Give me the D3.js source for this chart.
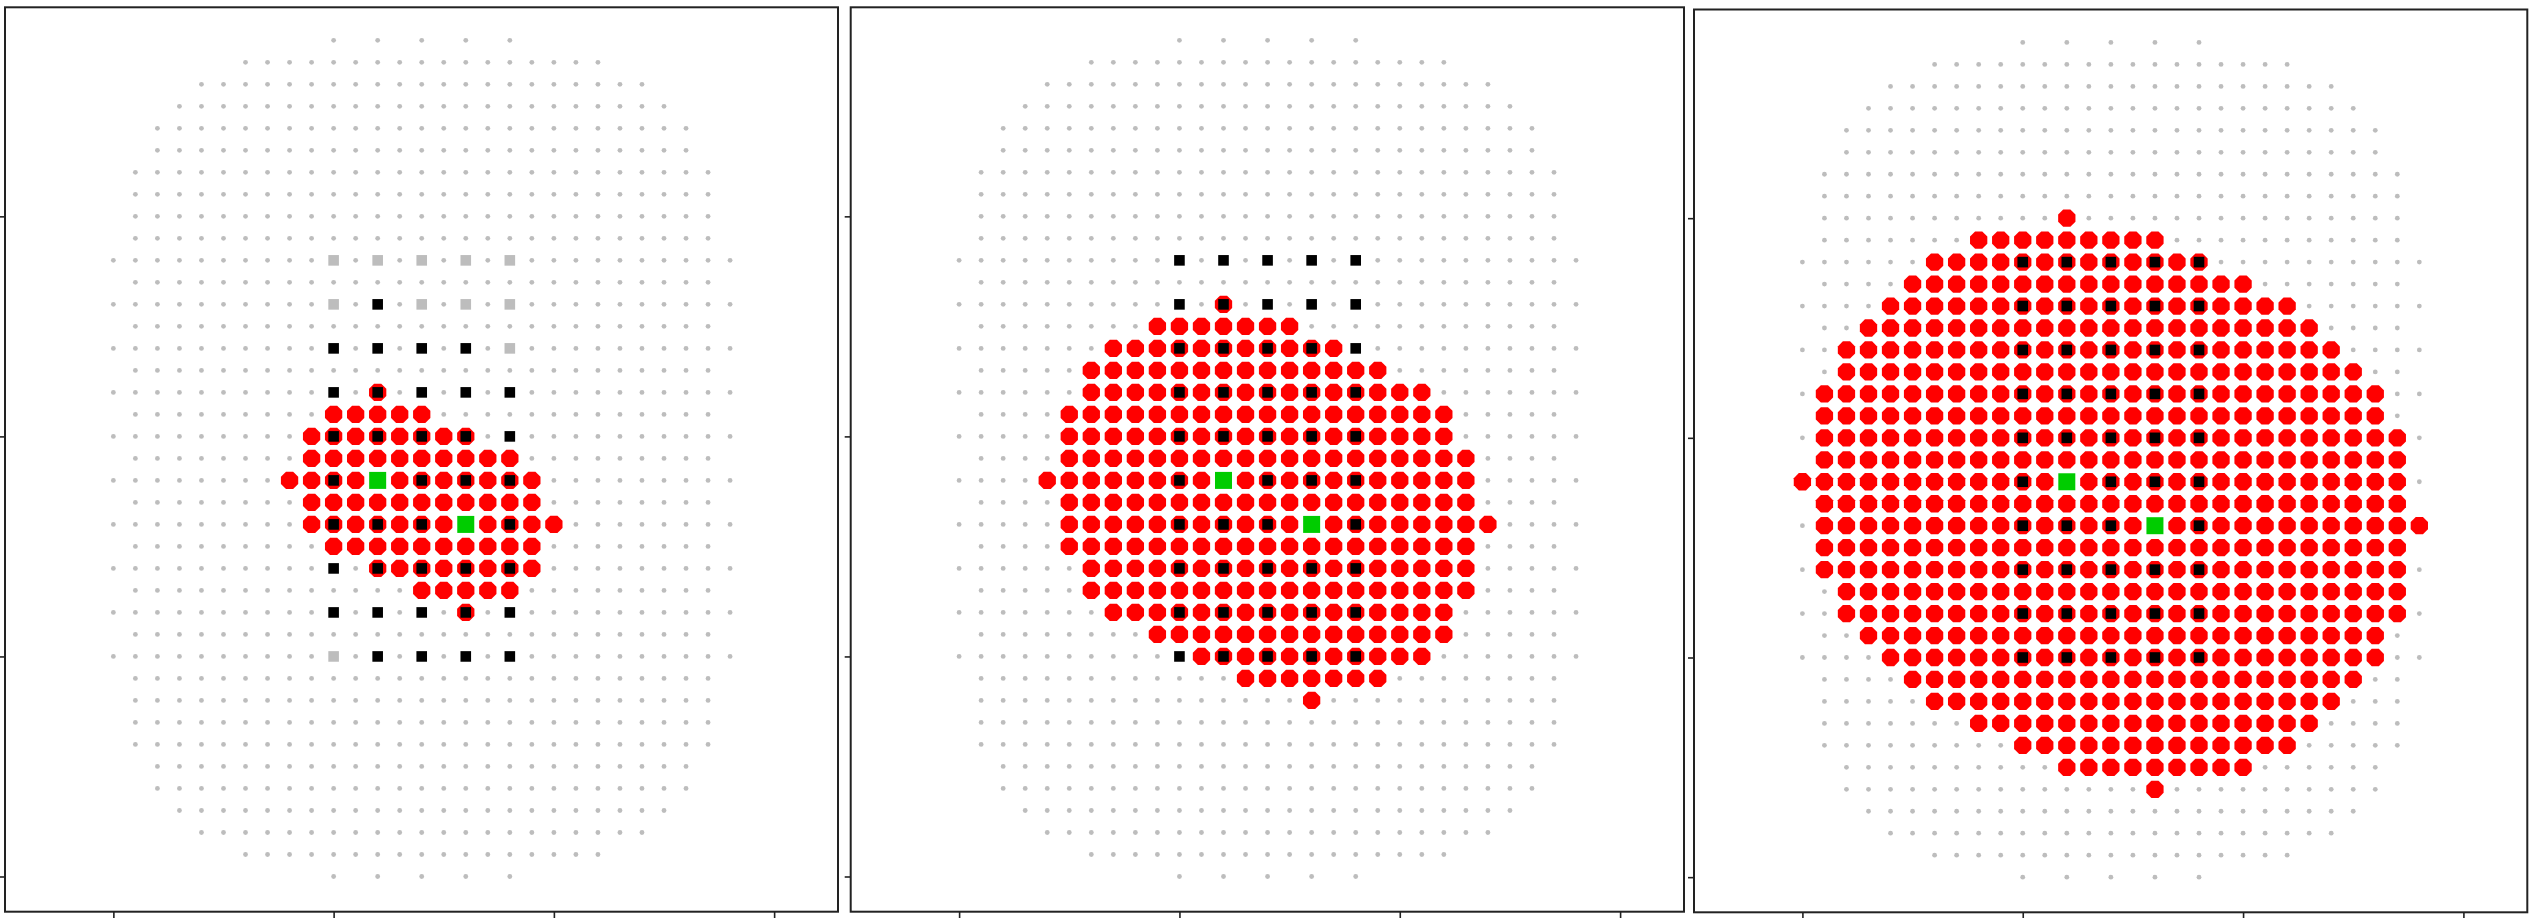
<!DOCTYPE html>
<html><head><meta charset="utf-8">
<script src="https://cdn.jsdelivr.net/npm/d3@7"></script>
<style>html,body{margin:0;padding:0;background:#fff;} svg{display:block;}</style>
</head><body>
<script>
// ---------- DATA (col = x index, row = y index from top) ----------
// gray sample grid, one entry per row: [row, firstCol, lastCol, step]
const gridRows = [
  [0,10,18,2],[1,6,22,1],[2,4,24,1],[3,3,25,1],[4,2,26,1],[5,2,26,1],
  [6,1,27,1],[7,1,27,1],[8,1,27,1],[9,1,27,1],
  [10,0,28,1],[11,1,27,1],[12,0,28,1],[13,1,27,1],[14,0,28,1],[15,1,27,1],
  [16,0,28,1],[17,1,27,1],[18,0,28,1],[19,1,27,1],[20,0,28,1],[21,1,27,1],
  [22,0,28,1],[23,1,27,1],[24,0,28,1],[25,1,27,1],[26,0,28,1],[27,1,27,1],
  [28,0,28,1],[29,1,27,1],[30,1,27,1],[31,1,27,1],[32,1,27,1],
  [33,2,26,1],[34,2,26,1],[35,3,25,1],[36,4,24,1],[37,6,22,1],[38,10,18,2]
];
// coarse (square-marker) lattice
const coarseCols = [10,12,14,16,18];
const coarseRows = [10,12,14,16,18,20,22,24,26,28];
// two green reference points [col,row]
const greenPoints = [[12,20],[16,22]];
// panel 1 coarse points drawn gray instead of black [col,row]
const panel1GraySquares = [[10,10],[12,10],[14,10],[16,10],[18,10],[10,12],[14,12],[16,12],[18,12],[18,14],[10,28]];
// red markers per panel: [row, firstCol, lastCol]
const panel1Red = [
  [16,12,12],[17,10,14],[18,9,16],[19,9,18],[20,8,19],[21,9,19],
  [22,9,20],[23,10,19],[24,12,19],[25,14,18],[26,16,16]
];
const panel2Red = [
  [12,12,12],[13,9,15],[14,7,17],[15,6,19],[16,6,21],[17,5,22],[18,5,22],
  [19,5,23],[20,4,23],[21,5,23],[22,5,24],[23,5,23],[24,6,23],[25,6,23],
  [26,7,22],[27,9,22],[28,11,21],[29,13,19],[30,16,16]
];
const panel3Red = [
  [8,12,12],[9,8,16],[10,6,18],[11,5,20],[12,4,22],[13,3,23],[14,2,24],
  [15,2,25],[16,1,26],[17,1,26],[18,1,27],[19,1,27],[20,0,27],[21,1,27],
  [22,1,28],[23,1,27],[24,1,27],[25,2,27],[26,2,27],[27,3,26],[28,4,26],
  [29,5,25],[30,6,24],[31,8,23],[32,10,22],[33,12,20],[34,16,16]
];
// axis limits and ticks (tick labels are not shown in the original)
const xLimits = [-4.92, 32.9];
const yLimits = [-1.5, 39.6];
const xTicks = [0,10,20,30];
const yTicks = [8,18,28,38];

// ---------- LAYOUT ----------
const W = 2533, H = 918;
const frames = [
  {left:5,     top:7.3, right:838,    bottom:911.7},
  {left:850.7, top:7.3, right:1684,   bottom:911.7},
  {left:1694,  top:9.5, right:2527.3, bottom:912.3}
];
const panels = [
  {red: panel1Red, gray: panel1GraySquares},
  {red: panel2Red, gray: []},
  {red: panel3Red, gray: []}
];

const svg = d3.select("body").append("svg").attr("width", W).attr("height", H)
  .style("background", "#fff");

const isGreen = (c, r) => greenPoints.some(g => g[0] === c && g[1] === r);
const gridPts = [];
gridRows.forEach(([r, a, b, s]) => { for (let c = a; c <= b; c += s) gridPts.push([c, r]); });
const coarsePts = [];
coarseRows.forEach(r => coarseCols.forEach(c => coarsePts.push([c, r])));

// octagon path (flat sides facing axes)
const octR = 8.65 / Math.cos(Math.PI / 8);
const octVerts = d3.range(8).map(k => {
  const a = Math.PI / 8 + k * Math.PI / 4;
  return [octR * Math.cos(a), octR * Math.sin(a)];
});
const octPath = d3.line().curve(d3.curveLinearClosed)(octVerts);

frames.forEach((f, i) => {
  const p = panels[i];
  const x = d3.scaleLinear().domain(xLimits).range([f.left, f.right]);
  const y = d3.scaleLinear().domain(yLimits).range([f.top, f.bottom]);
  const g = svg.append("g");

  // gray grid dots
  g.append("g").selectAll("circle").data(gridPts).join("circle")
    .attr("cx", d => x(d[0])).attr("cy", d => y(d[1])).attr("r", 2.4)
    .attr("fill", "#bdbdbd");

  // red octagons
  const redPts = [];
  p.red.forEach(([r, a, b]) => { for (let c = a; c <= b; c++) if (!isGreen(c, r)) redPts.push([c, r]); });
  g.append("g").selectAll("path").data(redPts).join("path")
    .attr("d", octPath)
    .attr("transform", d => `translate(${x(d[0])},${y(d[1])})`)
    .attr("fill", "#ff0000");

  // coarse squares (black, or gray in panel 1 where marked)
  const sq = 10.6;
  const sqPts = coarsePts.filter(d => !isGreen(d[0], d[1]));
  g.append("g").selectAll("rect").data(sqPts).join("rect")
    .attr("x", d => x(d[0]) - sq / 2).attr("y", d => y(d[1]) - sq / 2)
    .attr("width", sq).attr("height", sq)
    .attr("fill", d => p.gray.some(q => q[0] === d[0] && q[1] === d[1]) ? "#bdbdbd" : "#000");

  // green squares
  const gs = 17;
  g.append("g").selectAll("rect").data(greenPoints).join("rect")
    .attr("x", d => x(d[0]) - gs / 2).attr("y", d => y(d[1]) - gs / 2)
    .attr("width", gs).attr("height", gs)
    .attr("fill", "#00cc00");

  // axes (ticks only, no labels)
  const ax = g.append("g").attr("transform", `translate(0,${f.bottom})`)
    .call(d3.axisBottom(x).tickValues(xTicks).tickSize(7).tickFormat(""));
  const ay = g.append("g").attr("transform", `translate(${f.left},0)`)
    .call(d3.axisLeft(y).tickValues(yTicks).tickSize(6).tickFormat(""));
  [ax, ay].forEach(a => {
    a.select(".domain").remove();
    a.selectAll(".tick line").attr("stroke", "#222").attr("stroke-width", 1.6);
  });

  // frame
  g.append("rect").attr("x", f.left).attr("y", f.top)
    .attr("width", f.right - f.left).attr("height", f.bottom - f.top)
    .attr("fill", "none").attr("stroke", "#222").attr("stroke-width", 2);
});
</script>
</body></html>
